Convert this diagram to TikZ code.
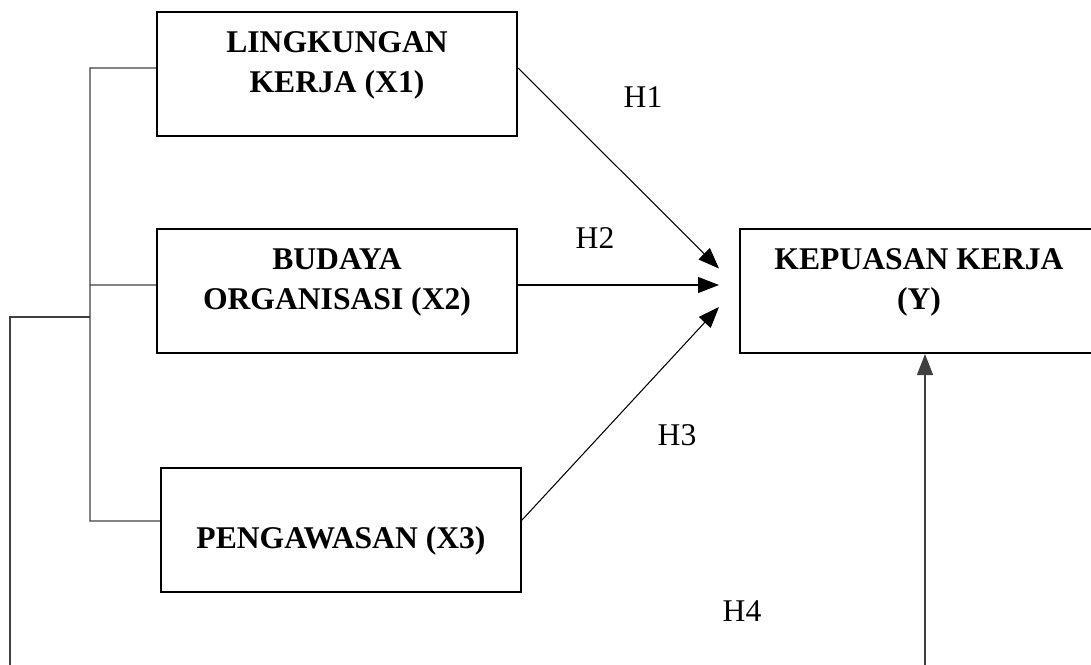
\documentclass[tikz,border=0pt]{standalone}
\usepackage{fontspec}
\setmainfont{Liberation Serif}
\usetikzlibrary{arrows.meta,positioning}
\tikzset{
  varbox/.style={draw, line width=1.2pt, inner sep=0pt, minimum width=7.2cm,
    text height=1.6cm, text depth=0.88cm,
    font=\fontsize{18}{22.7}\selectfont\bfseries},
  hyp/.style={font=\fontsize{18}{22.7}\selectfont, inner sep=0pt},
  busline/.style={draw=black!75, line width=0.7pt},
  tip/.style={-{Triangle[length=0.42cm,width=0.32cm]}},
  pathline/.style={draw, line width=0.6pt, tip}
}
\begin{document}
\begin{tikzpicture}[x=0.02cm, y=-0.02cm]
    \useasboundingbox (0,0) rectangle (1091,664);
    % variabel bebas
    \node[varbox] (x1) at (337,74) {\begin{tabular}[b]{@{}c@{}}LINGKUNGAN\\KERJA (X1)\end{tabular}};
    \node[varbox] (x2) at (337,291) {\begin{tabular}[b]{@{}c@{}}BUDAYA\\ORGANISASI (X2)\end{tabular}};
    \node[varbox] (x3) at (341,530) {PENGAWASAN (X3)};
    % variabel terikat
    \node[varbox, minimum width=7.16cm] (y) at (919,291) {\begin{tabular}[b]{@{}c@{}}KEPUASAN KERJA\\(Y)\end{tabular}};
    % garis penghubung kiri
    \coordinate (b1) at (90,68);
    \coordinate (b2) at (90,285);
    \coordinate (b3) at (90,521);
    \coordinate (bj) at (90,317);
    \draw[busline] ([yshift=0.12cm]x1.west) -- (b1) -- (b3) -- ([yshift=0.18cm]x3.west);
    \draw[busline] ([yshift=0.12cm]x2.west) -- (b2);
    \draw[busline] (bj) -- (10,317) -- (10,700) -- (925,700);
    \draw[busline, tip] (925,700) -- (y.south -| 925,0);
    % panah hipotesis
    \draw[pathline] ([yshift=0.12cm]x1.east) -- ([xshift=-0.4cm,yshift=0.45cm]y.west);
    \draw[pathline] ([yshift=0.12cm]x2.east) -- ([xshift=-0.4cm,yshift=0.12cm]y.west);
    \draw[pathline] ([yshift=0.2cm]x3.east) -- ([xshift=-0.4cm,yshift=-0.32cm]y.west);
    \node[hyp] (h1) at (643,97) {H1};
    \node[hyp] (h2) at (595,238) {H2};
    \node[hyp] (h3) at (677,435) {H3};
    \node[hyp] (h4) at (742,611) {H4};
\end{tikzpicture}
\end{document}
